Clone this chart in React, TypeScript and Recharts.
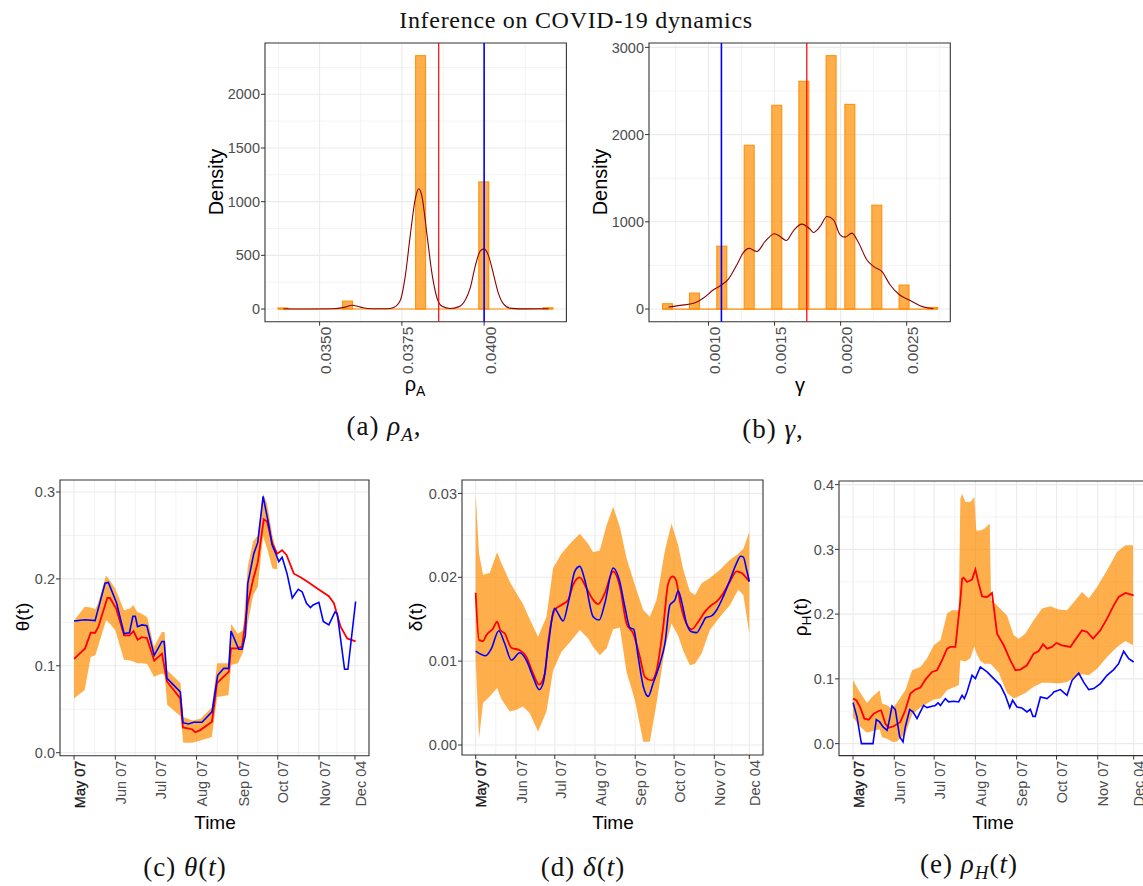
import React from 'react';
import {
  ComposedChart, Bar, Line, Area, XAxis, YAxis, CartesianGrid, ReferenceLine, ReferenceArea,
} from 'recharts';

const SANS = '"Liberation Sans", Arial, Helvetica, sans-serif';
const SERIF = '"Liberation Serif", "Times New Roman", serif';
const ORANGE = '#FF8C00';
const GRID = '#EBEBEB';

// (a) rho_A posterior
const rhoBinX = [0.033885, 0.03585, 0.03807, 0.03999, 0.04194];
const rhoBinH = [10, 74, 2360, 1184, 12];
const rhoBinRange = [0.033745, 0.04208];
const rhoDensX = [0.0339, 0.0347, 0.0354, 0.03574, 0.03599, 0.03624, 0.03655, 0.03705, 0.03725, 0.03745, 0.0376, 0.03776, 0.03791, 0.03801, 0.03811, 0.03826, 0.03842, 0.03857, 0.03872, 0.03897, 0.03922, 0.03942, 0.03958, 0.03973, 0.03988, 0.04, 0.04013, 0.04028, 0.04043, 0.04058, 0.04079, 0.04109, 0.04196];
const rhoDensY = [3, 0, 2, 15, 35, 18, 2, 2, 15, 80, 300, 700, 1030, 1120, 1050, 700, 320, 100, 25, 5, 20, 80, 200, 400, 540, 560, 500, 330, 150, 50, 8, 1, 2];
const rhoMean = 0.03862;
const rhoTrue = 0.04;

// (b) gamma posterior
const gamBinX = [0.00069, 0.000894, 0.001101, 0.001308, 0.001517, 0.001722, 0.001928, 0.00207, 0.002274, 0.00248, 0.002697];
const gamBinH = [61, 183, 721, 1878, 2336, 2611, 2905, 2347, 1191, 275, 19];
const gamBinRange = [0.000655, 0.002732];
const gamDensX = [0.000697, 0.000786, 0.000894, 0.000962, 0.001038, 0.001101, 0.001151, 0.001215, 0.001265, 0.001308, 0.001366, 0.001429, 0.0015, 0.001542, 0.001588, 0.001643, 0.001706, 0.001769, 0.001794, 0.001845, 0.001896, 0.001946, 0.001996, 0.002034, 0.002085, 0.002135, 0.002198, 0.002248, 0.002312, 0.002374, 0.002445, 0.002526, 0.002601, 0.002664, 0.002702];
const gamDensY = [23, 42, 69, 126, 221, 279, 344, 508, 649, 695, 660, 775, 863, 832, 786, 897, 973, 916, 878, 947, 1061, 1023, 851, 824, 870, 763, 565, 489, 431, 279, 164, 99, 38, 11, 4];
const gamMean = 0.001744;
const gamTrue = 0.001098;

// time axis: days since May 07
const dayTicks = [0, 31, 61, 92, 123, 153, 184, 211];
const dayLabels = ['May 07', 'Jun 07', 'Jul 07', 'Aug 07', 'Sep 07', 'Oct 07', 'Nov 07', 'Dec 04'];
const dayMinor = [15.5, 46, 76.5, 107.5, 138, 168.5, 197.5];

// (c) theta(t)
const thetaBandDays = [0, 8, 12.5, 16, 18, 24, 26, 31, 37.5, 42, 44.5, 47.5, 51, 55, 60, 66, 68, 70, 80, 82, 89, 95, 103.5, 107.5, 116, 118, 123, 127, 130.5, 134.5, 138, 142, 145, 149, 152.5];
const thetaLow = [0.0625, 0.072, 0.110, 0.112, 0.122, 0.152, 0.150, 0.141, 0.107, 0.106, 0.105, 0.103, 0.103, 0.102, 0.0875, 0.091, 0.089, 0.055, 0.042, 0.0115, 0.0115, 0.014, 0.018, 0.064, 0.066, 0.101, 0.103, 0.116, 0.149, 0.181, 0.191, 0.249, 0.235, 0.212, 0.211];
const thetaHigh = [0.152, 0.168, 0.167, 0.165, 0.172, 0.204, 0.200, 0.189, 0.164, 0.166, 0.170, 0.162, 0.160, 0.156, 0.122, 0.139, 0.139, 0.095, 0.080, 0.041, 0.037, 0.039, 0.052, 0.103, 0.103, 0.148, 0.137, 0.141, 0.214, 0.243, 0.250, 0.298, 0.287, 0.250, 0.229];
const thetaEstDays = [0, 8.3, 12.5, 15.8, 18.3, 25, 27, 31.6, 37.6, 41.6, 44.7, 47.7, 50.9, 54.7, 60.2, 66, 69.8, 79.8, 81.8, 88.6, 91.1, 94.8, 103.6, 107.4, 112.4, 116.2, 117.9, 122.4, 126.2, 130.5, 134.5, 138, 142.5, 145, 148.8, 152.6, 156.3, 159.6, 165.1, 170.1, 175.1, 182.7, 191.4, 195.2, 200.2, 205.2, 211.5];
const thetaEst = [0.108, 0.120, 0.138, 0.138, 0.145, 0.178, 0.178, 0.166, 0.135, 0.135, 0.140, 0.130, 0.133, 0.132, 0.106, 0.114, 0.082, 0.0625, 0.029, 0.027, 0.0235, 0.026, 0.0357, 0.080, 0.0875, 0.093, 0.120, 0.120, 0.122, 0.172, 0.199, 0.219, 0.2685, 0.266, 0.241, 0.229, 0.233, 0.2275, 0.206, 0.202, 0.197, 0.189, 0.180, 0.172, 0.145, 0.1315, 0.128];
const thetaObsDays = [0, 8.3, 15.8, 23.3, 25.8, 32, 37.6, 41.6, 44.2, 46, 47.7, 50.9, 54.7, 60.2, 66, 67.7, 69.8, 79.8, 81.8, 86, 89.8, 96.1, 103.6, 107.9, 112.4, 116.2, 117.9, 123.7, 126.2, 128.7, 130.5, 135, 138, 142, 146.3, 148.8, 151.3, 153.8, 156.3, 160, 163.9, 168.4, 171.4, 174.6, 177.6, 179.6, 183.9, 187.2, 191.4, 196, 197.7, 203.2, 205.7, 211.5];
const thetaObs = [0.1515, 0.153, 0.152, 0.195, 0.196, 0.172, 0.137, 0.138, 0.157, 0.157, 0.145, 0.147, 0.146, 0.112, 0.128, 0.128, 0.0855, 0.070, 0.0345, 0.033, 0.035, 0.035, 0.047, 0.089, 0.097, 0.097, 0.140, 0.119, 0.119, 0.135, 0.195, 0.229, 0.242, 0.295, 0.262, 0.239, 0.230, 0.220, 0.225, 0.206, 0.178, 0.188, 0.185, 0.172, 0.167, 0.170, 0.173, 0.151, 0.147, 0.162, 0.160, 0.096, 0.096, 0.174];

// (d) delta(t)
const deltaBandDays = [0, 2.6, 5.7, 10.8, 16.5, 19.8, 26.2, 31.4, 36.5, 41.7, 48.1, 54.6, 59.7, 66.1, 73.9, 80.3, 86.7, 90.6, 95.7, 100.9, 106, 111.2, 116.3, 122.7, 129.2, 134.3, 139.5, 145.9, 151, 156.2, 160.1, 165.2, 169.1, 174.2, 180.6, 188.4, 196.1, 202.5, 206.4, 211];
const deltaLow = [0.0101, 0.0008, 0.0050, 0.0058, 0.0068, 0.0055, 0.0040, 0.0042, 0.0046, 0.0038, 0.0016, 0.0040, 0.0089, 0.0111, 0.0125, 0.0137, 0.0127, 0.0117, 0.0107, 0.0115, 0.0138, 0.0140, 0.0087, 0.0054, 0.0004, 0.0004, 0.0050, 0.0115, 0.0145, 0.0130, 0.0112, 0.0095, 0.0097, 0.0109, 0.0137, 0.0153, 0.0167, 0.0185, 0.0179, 0.0133];
const deltaHigh = [0.0299, 0.0228, 0.0203, 0.0205, 0.0230, 0.0217, 0.0195, 0.0181, 0.0168, 0.0150, 0.0129, 0.0153, 0.0211, 0.0228, 0.0242, 0.0252, 0.0240, 0.0230, 0.0232, 0.0262, 0.0284, 0.0260, 0.0223, 0.0191, 0.0161, 0.0153, 0.0173, 0.0232, 0.0264, 0.0238, 0.0209, 0.0183, 0.0179, 0.0193, 0.0199, 0.0209, 0.0221, 0.0228, 0.0234, 0.0254];
const deltaEstDays = [0, 2.6, 5.7, 8.2, 13.4, 16.5, 19, 22.4, 27.5, 34, 39.1, 44.3, 48.9, 53.3, 55.8, 61, 66.1, 71.3, 75.1, 80.3, 85.4, 90.6, 94.4, 99.6, 106, 111.2, 116.3, 121.5, 126.6, 130.5, 135.6, 139.5, 144.6, 148.5, 151.8, 154.4, 157.5, 161.3, 166.5, 171.6, 176.8, 181.9, 185.8, 190.9, 196.1, 201.2, 205.1, 208.9, 211];
const deltaEst = [0.01816, 0.0125, 0.0124, 0.0131, 0.0139, 0.0147, 0.0137, 0.0133, 0.0116, 0.0113, 0.0105, 0.0085, 0.0072, 0.0085, 0.0121, 0.0161, 0.0167, 0.0173, 0.0191, 0.0200, 0.0187, 0.0173, 0.0168, 0.0181, 0.0207, 0.0189, 0.0145, 0.0133, 0.0105, 0.0081, 0.0077, 0.0089, 0.0141, 0.0193, 0.0201, 0.0197, 0.0171, 0.0149, 0.0138, 0.0147, 0.0159, 0.0167, 0.0171, 0.0181, 0.0195, 0.0207, 0.0205, 0.0199, 0.0195];
const deltaObsDays = [0, 7.7, 12.1, 17.8, 22.4, 27.5, 34, 39.1, 44.3, 48.9, 52, 55.8, 61, 63.5, 67.4, 71.3, 76.4, 80.3, 84.1, 90.6, 95.2, 99.6, 106, 110.7, 115, 118.9, 121.9, 125.3, 129.2, 133, 136.9, 142, 145.9, 149.8, 153.6, 156.2, 158.8, 162.6, 166.5, 170.4, 174.2, 177.6, 181.9, 185.8, 190.9, 196.1, 201.2, 204.3, 206.4, 208.9, 211];
const deltaObs = [0.0112, 0.01065, 0.0115, 0.01363, 0.0121, 0.01013, 0.0110, 0.0101, 0.0081, 0.0066, 0.00735, 0.0117, 0.0163, 0.0157, 0.0148, 0.0169, 0.0207, 0.0213, 0.0197, 0.0153, 0.0149, 0.0169, 0.0211, 0.0197, 0.0165, 0.0140, 0.0138, 0.0105, 0.0070, 0.0058, 0.0074, 0.0097, 0.0121, 0.0167, 0.0173, 0.0184, 0.0171, 0.0145, 0.0135, 0.0134, 0.0143, 0.0152, 0.0154, 0.0161, 0.0177, 0.0197, 0.0217, 0.0225, 0.0224, 0.0209, 0.0195];

// (e) rho_H(t)
const rhoHBandDays = [0, 4.3, 10.5, 14.3, 20, 21.8, 25.6, 29.3, 32.6, 39.3, 44.4, 50.6, 55.6, 60.7, 65.7, 70.7, 74.4, 79.5, 80.7, 82, 84.5, 88.2, 91.2, 92.7, 95.7, 98.7, 102.8, 103.8, 109.5, 115.8, 120.8, 124.6, 129.6, 135.8, 142.1, 148.4, 154.6, 160.9, 167.2, 172.2, 177.2, 183.5, 191, 198.5, 204.8, 210.5];
const rhoHLow = [0.0412, 0.028, 0.0167, 0.019, 0.022, 0.010, 0.0075, 0.003, 0.003, 0.015, 0.045, 0.0556, 0.0618, 0.068, 0.0695, 0.0824, 0.086, 0.09, 0.1287, 0.128, 0.127, 0.132, 0.150, 0.140, 0.128, 0.1235, 0.1235, 0.122, 0.110, 0.078, 0.070, 0.073, 0.078, 0.088, 0.094, 0.094, 0.093, 0.095, 0.103, 0.107, 0.1055, 0.1158, 0.1338, 0.1493, 0.1586, 0.1519];
const rhoHHigh = [0.0978, 0.0824, 0.0628, 0.072, 0.0824, 0.0618, 0.0592, 0.054, 0.0618, 0.0824, 0.1133, 0.1184, 0.1313, 0.1519, 0.1596, 0.2008, 0.2059, 0.2059, 0.378, 0.386, 0.373, 0.373, 0.381, 0.329, 0.329, 0.332, 0.340, 0.2214, 0.211, 0.198, 0.1673, 0.162, 0.170, 0.1905, 0.2085, 0.212, 0.207, 0.206, 0.2214, 0.234, 0.224, 0.242, 0.2677, 0.296, 0.3063, 0.3063];
const rhoHEstDays = [0, 2.5, 5.5, 8.5, 11.8, 15.5, 19.3, 21.1, 24.3, 26.8, 30.6, 35.6, 39.3, 43.1, 46.9, 50.6, 54.4, 59.4, 63.2, 66.9, 70.7, 73.2, 77, 80.7, 82, 83.2, 85.7, 89.5, 92, 94.5, 97, 100.8, 104.5, 108.3, 113.3, 118.3, 122.1, 125.8, 130.8, 135.8, 139.6, 142.9, 145.9, 149.6, 152.9, 157.1, 163.4, 167.2, 172.2, 176, 180.5, 186, 191, 196, 199.7, 204.8, 211];
const rhoHEst = [0.0695, 0.067, 0.0556, 0.0386, 0.037, 0.0463, 0.0504, 0.0515, 0.0309, 0.0247, 0.0268, 0.0335, 0.0515, 0.0772, 0.0834, 0.0865, 0.0988, 0.1107, 0.1133, 0.1287, 0.1467, 0.1493, 0.1493, 0.2214, 0.2548, 0.2564, 0.2497, 0.2533, 0.2687, 0.2471, 0.2275, 0.2265, 0.2327, 0.1699, 0.1519, 0.1287, 0.1133, 0.1143, 0.121, 0.139, 0.1431, 0.1534, 0.1467, 0.1493, 0.1555, 0.1519, 0.1493, 0.1606, 0.175, 0.1724, 0.1622, 0.175, 0.193, 0.2136, 0.2265, 0.2327, 0.2291];
const rhoHObsDays = [0, 3, 6.3, 15, 17.5, 20, 22.6, 25.6, 26.8, 29.3, 31.8, 35.1, 37.6, 39.3, 42.6, 45.1, 48.1, 50.6, 53.1, 55.6, 59.4, 61.9, 63.9, 65.7, 69.4, 71.9, 75.7, 79.4, 82, 83.7, 85.7, 89.5, 92, 95.7, 100.8, 105.8, 110.8, 114.5, 117.8, 120, 123.3, 127, 130.8, 133.3, 135.3, 137, 140.9, 145.9, 149.6, 150.9, 155.9, 160.9, 164.7, 169.7, 173.4, 177.2, 181, 186, 191, 196, 199.7, 203.5, 207.3, 211];
const rhoHObs = [0.0633, 0.041, 0, 0, 0.037, 0.0335, 0.0257, 0.0206, 0.031, 0.058, 0.0525, 0.0103, 0.0026, 0.0257, 0.0525, 0.049, 0.0386, 0.049, 0.059, 0.0556, 0.0577, 0.059, 0.0628, 0.059, 0.0695, 0.0644, 0.0654, 0.0644, 0.0746, 0.0695, 0.0798, 0.1055, 0.1004, 0.1184, 0.1107, 0.1004, 0.090, 0.0746, 0.0556, 0.067, 0.0566, 0.055, 0.049, 0.053, 0.042, 0.042, 0.072, 0.0695, 0.0762, 0.0798, 0.0834, 0.0746, 0.0978, 0.109, 0.095, 0.0834, 0.085, 0.0927, 0.1055, 0.1143, 0.1235, 0.1426, 0.1313, 0.1261];

const pts = (xs: number[], ys: number[]) => xs.map((x, i) => ({ x, y: ys[i] }));
const bins = (xs: number[], hs: number[]) => xs.map((x, i) => ({ x, h: hs[i] }));
const band = (xs: number[], lo: number[], hi: number[]) => xs.map((x, i) => ({ x, r: [lo[i], hi[i]] }));

const YW = 70;
const XH = 80;
const MT = 4;
const MR = 4;
const BAR_W = 10;

// keeps the bar centred on its bin, whatever band size recharts works out for a numeric axis
const HistBar = (props: any) => {
  const { x, y, width, height } = props;
  if (!height) return null;
  const cx = x + width / 2;
  return (
    <rect x={cx - BAR_W / 2} y={y} width={BAR_W} height={height}
      fill={ORANGE} fillOpacity={0.7} stroke={ORANGE} strokeWidth={1} />
  );
};

const RotTick = (props: any) => {
  const { x, y, payload, fs, fmt, index } = props;
  const first = index === 0 && fmt === dayFmt;
  return (
    <g transform={`translate(${x},${y}) rotate(-90)`}>
      <text
        x={0} y={0} dy="0.74em" textAnchor="end" fontSize={fs} fontFamily={SANS}
        fill={first ? '#1A1A1A' : '#4D4D4D'} stroke={first ? '#1A1A1A' : 'none'} strokeWidth={first ? 0.35 : 0}
      >
        {fmt(payload.value)}
      </text>
    </g>
  );
};

type PanelProps = {
  left: number; top: number; w: number; h: number;
  xDomain: [number, number]; yDomain: [number, number];
  xTicks: number[]; xMinor: number[]; yTicks: number[]; yMinor: number[];
  xFmt: (v: number) => string; yFmt: (v: number) => string;
  xfs: number; yfs: number; data?: any[]; children: React.ReactNode;
};

function Panel(p: PanelProps) {
  return (
    <div style={{ position: 'absolute', left: p.left - YW, top: p.top - MT }}>
      <ComposedChart
        width={YW + p.w + MR}
        height={MT + p.h + XH}
        data={p.data}
        margin={{ top: MT, right: MR, left: 0, bottom: 0 }}
      >
        <CartesianGrid horizontalValues={p.yMinor} verticalValues={p.xMinor} stroke={GRID} strokeWidth={0.6} />
        <CartesianGrid horizontalValues={p.yTicks} verticalValues={p.xTicks} stroke={GRID} strokeWidth={1.1} />
        <XAxis
          type="number" dataKey="x" domain={p.xDomain} allowDataOverflow ticks={p.xTicks} interval={0}
          height={XH} tickSize={4} tickMargin={1} axisLine={false} tickLine={{ stroke: '#333333' }}
          tick={<RotTick fs={p.xfs} fmt={p.xFmt} />}
        />
        <YAxis
          type="number" domain={p.yDomain} allowDataOverflow ticks={p.yTicks} interval={0}
          width={YW} tickSize={4} tickMargin={1} axisLine={false} tickLine={{ stroke: '#333333' }}
          tick={{ fill: '#4D4D4D', fontSize: p.yfs, fontFamily: SANS }} tickFormatter={p.yFmt}
        />
        {p.children}
        <ReferenceArea
          x1={p.xDomain[0]} x2={p.xDomain[1]} y1={p.yDomain[0]} y2={p.yDomain[1]}
          fill="none" stroke="#333333" strokeWidth={1.1} ifOverflow="visible"
        />
      </ComposedChart>
    </div>
  );
}

const Txt = ({ x, y, size, rot, serif, spacing, children }: any) => (
  <div
    style={{
      position: 'absolute', left: x, top: y, whiteSpace: 'nowrap', lineHeight: 1,
      transform: `translate(-50%, -50%)${rot ? ' rotate(-90deg)' : ''}`,
      fontSize: size, fontFamily: serif ? SERIF : SANS, color: serif ? '#111' : '#000',
      letterSpacing: spacing ?? 0,
    }}
  >
    {children}
  </div>
);

const sub = { fontSize: '0.7em', verticalAlign: '-0.3em' };
function dayFmt(v: number) {
  return dayLabels[dayTicks.indexOf(v)] ?? '';
}

export default function App() {
  return (
    <div style={{ position: 'absolute', left: 0, top: 0, width: 1143, height: 886, overflow: 'hidden', background: '#fff' }}>
      <Txt x={576} y={20} size={24} serif spacing="0.7px">Inference on COVID-19 dynamics</Txt>

      {/* (a) */}
      <Panel
        left={265.3} top={43.3} w={301.4} h={278.7}
        xDomain={[0.03334, 0.0425]} yDomain={[-118, 2478]}
        xTicks={[0.035, 0.0375, 0.04]} xMinor={[0.03375, 0.03625, 0.03875, 0.04125]}
        yTicks={[0, 500, 1000, 1500, 2000]} yMinor={[250, 750, 1250, 1750, 2250]}
        xFmt={(v) => v.toFixed(4)} yFmt={(v) => String(v)} xfs={15.5} yfs={14.5}
        data={bins(rhoBinX, rhoBinH)}
      >
        <ReferenceLine segment={[{ x: rhoBinRange[0], y: 0 }, { x: rhoBinRange[1], y: 0 }]} stroke={ORANGE} strokeWidth={1.2} />
        <Bar dataKey="h" shape={<HistBar />} isAnimationActive={false} />
        <Line data={pts(rhoDensX, rhoDensY)} dataKey="y" type="monotone" stroke="#8B0000" strokeWidth={1.1} dot={false} isAnimationActive={false} />
        <ReferenceLine x={rhoMean} stroke="#FF0000" strokeWidth={1.2} />
        <ReferenceLine x={rhoTrue} stroke="#0000FF" strokeWidth={1.6} />
      </Panel>
      <Txt x={215.5} y={182} size={20} rot>Density</Txt>
      <Txt x={415} y={386} size={20}>ρ<span style={sub}>A</span></Txt>

      {/* (b) */}
      <Panel
        left={648.7} top={43.3} w={301.3} h={278.7}
        xDomain={[0.00055, 0.00283]} yDomain={[-145, 3050]}
        xTicks={[0.001, 0.0015, 0.002, 0.0025]} xMinor={[0.00075, 0.00125, 0.00175, 0.00225, 0.00275]}
        yTicks={[0, 1000, 2000, 3000]} yMinor={[500, 1500, 2500]}
        xFmt={(v) => v.toFixed(4)} yFmt={(v) => String(v)} xfs={15.5} yfs={14.5}
        data={bins(gamBinX, gamBinH)}
      >
        <ReferenceLine segment={[{ x: gamBinRange[0], y: 0 }, { x: gamBinRange[1], y: 0 }]} stroke={ORANGE} strokeWidth={1.2} />
        <Bar dataKey="h" shape={<HistBar />} isAnimationActive={false} />
        <Line data={pts(gamDensX, gamDensY)} dataKey="y" type="monotone" stroke="#8B0000" strokeWidth={1.1} dot={false} isAnimationActive={false} />
        <ReferenceLine x={gamMean} stroke="#FF0000" strokeWidth={1.2} />
        <ReferenceLine x={gamTrue} stroke="#0000FF" strokeWidth={1.6} />
      </Panel>
      <Txt x={600} y={182} size={20} rot>Density</Txt>
      <Txt x={800} y={385} size={20}>γ</Txt>

      <Txt x={384} y={429} size={27} serif spacing="1px">(a) <i>ρ</i><i style={sub}>A</i>,</Txt>
      <Txt x={773} y={429} size={27} serif spacing="1px">(b) <i>γ</i>,</Txt>

      {/* (c) */}
      <Panel
        left={60.3} top={480} w={309} h={275.7}
        xDomain={[-10.55, 221.55]} yDomain={[-0.00345, 0.3138]}
        xTicks={dayTicks} xMinor={dayMinor}
        yTicks={[0, 0.1, 0.2, 0.3]} yMinor={[0.05, 0.15, 0.25]}
        xFmt={dayFmt} yFmt={(v) => v.toFixed(1)} xfs={14.5} yfs={14.5}
      >
        <Area data={band(thetaBandDays, thetaLow, thetaHigh)} dataKey="r" type="linear" stroke="none" fill={ORANGE} fillOpacity={0.7} isAnimationActive={false} />
        <Line data={pts(thetaEstDays, thetaEst)} dataKey="y" type="linear" stroke="#FF0000" strokeWidth={1.8} dot={false} isAnimationActive={false} />
        <Line data={pts(thetaObsDays, thetaObs)} dataKey="y" type="linear" stroke="#0000FF" strokeWidth={1.6} dot={false} isAnimationActive={false} />
      </Panel>
      <Txt x={22} y={617} size={19} rot>θ(t)</Txt>
      <Txt x={215} y={822} size={19}>Time</Txt>

      {/* (d) */}
      <Panel
        left={462.3} top={480} w={301} h={275}
        xDomain={[-10.55, 221.55]} yDomain={[-0.00119, 0.0316]}
        xTicks={dayTicks} xMinor={dayMinor}
        yTicks={[0, 0.01, 0.02, 0.03]} yMinor={[0.005, 0.015, 0.025]}
        xFmt={dayFmt} yFmt={(v) => v.toFixed(2)} xfs={14.5} yfs={14.5}
      >
        <Area data={band(deltaBandDays, deltaLow, deltaHigh)} dataKey="r" type="linear" stroke="none" fill={ORANGE} fillOpacity={0.7} isAnimationActive={false} />
        <Line data={pts(deltaEstDays, deltaEst)} dataKey="y" type="monotone" stroke="#FF0000" strokeWidth={1.8} dot={false} isAnimationActive={false} />
        <Line data={pts(deltaObsDays, deltaObs)} dataKey="y" type="monotone" stroke="#0000FF" strokeWidth={1.6} dot={false} isAnimationActive={false} />
      </Panel>
      <Txt x={415} y={617} size={19} rot>δ(t)</Txt>
      <Txt x={613} y={822} size={19}>Time</Txt>

      {/* (e) */}
      <Panel
        left={838.7} top={480.7} w={308.7} h={274.6}
        xDomain={[-10.55, 221.55]} yDomain={[-0.0185, 0.4056]}
        xTicks={dayTicks} xMinor={dayMinor}
        yTicks={[0, 0.1, 0.2, 0.3, 0.4]} yMinor={[0.05, 0.15, 0.25, 0.35]}
        xFmt={dayFmt} yFmt={(v) => v.toFixed(1)} xfs={14.5} yfs={14.5}
      >
        <Area data={band(rhoHBandDays, rhoHLow, rhoHHigh)} dataKey="r" type="linear" stroke="none" fill={ORANGE} fillOpacity={0.7} isAnimationActive={false} />
        <Line data={pts(rhoHEstDays, rhoHEst)} dataKey="y" type="linear" stroke="#FF0000" strokeWidth={1.8} dot={false} isAnimationActive={false} />
        <Line data={pts(rhoHObsDays, rhoHObs)} dataKey="y" type="linear" stroke="#0000FF" strokeWidth={1.6} dot={false} isAnimationActive={false} />
      </Panel>
      <Txt x={802} y={617} size={19} rot>ρ<span style={sub}>H</span>(t)</Txt>
      <Txt x={993} y={822} size={19}>Time</Txt>

      <Txt x={185} y={867} size={27} serif spacing="1px">(c) <i>θ</i>(<i>t</i>)</Txt>
      <Txt x={583} y={867} size={27} serif spacing="1px">(d) <i>δ</i>(<i>t</i>)</Txt>
      <Txt x={969} y={867} size={27} serif spacing="1px">(e) <i>ρ</i><i style={sub}>H</i>(<i>t</i>)</Txt>
    </div>
  );
}
